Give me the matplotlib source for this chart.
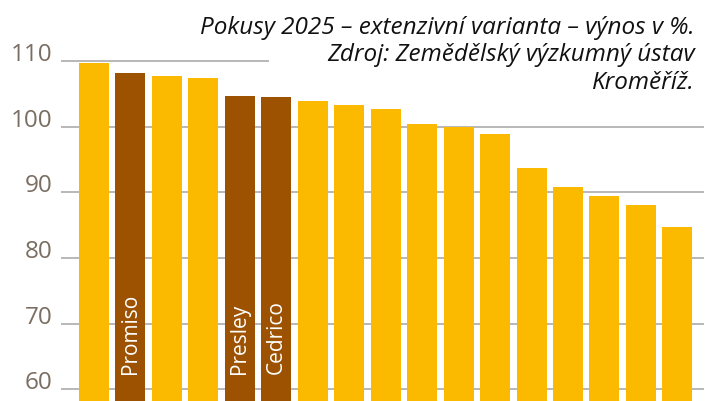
import matplotlib
matplotlib.use("Agg")
import matplotlib.pyplot as plt
from matplotlib.patches import Rectangle

values = [109.7, 108.2, 107.7, 107.4, 104.7, 104.5, 103.9, 103.3, 102.7,
          100.4, 100.0, 98.9, 93.7, 90.8, 89.5, 88.1, 84.7]
labels = ["", "Promiso", "", "", "Presley", "Cedrico", "", "", "",
          "", "", "", "", "", "", "", ""]
highlight = [False, True, False, False, True, True, False, False, False,
             False, False, False, False, False, False, False, False]
yticks = [60, 70, 80, 90, 100, 110]
title = "Pokusy 2025 – extenzivní varianta – výnos v %.\nZdroj: Zemědělský výzkumný ústav\nKroměříž."

YELLOW = "#FBB900"
BROWN = "#9C5200"
GRID = "#ABABAB"
TICKC = "#7A6E62"

plt.rcParams['font.family'] = ['Open Sans', 'DejaVu Sans']

fig = plt.figure(figsize=(7.07, 4.01), dpi=100)
ax = fig.add_axes([60.7 / 707, 0, (704 - 60.7) / 707, 1])

x = list(range(len(values)))
colors = [BROWN if h else YELLOW for h in highlight]
ax.bar(x, values, width=0.823, color=colors, zorder=3)

ax.set_ylim(58.2, 119.3)
ax.set_xlim(-0.913, len(values) - 1 + 0.73)
ax.set_yticks(yticks)
ax.set_yticklabels([str(t) for t in yticks], va='baseline')
ax.set_xticks([])
ax.tick_params(axis='y', length=0, pad=6, labelsize=17.5, labelcolor=TICKC)
for s in ax.spines.values():
    s.set_visible(False)
ax.yaxis.grid(True, color=GRID, linewidth=1.2, zorder=0)
ax.set_axisbelow(True)

for xi, lab in zip(x, labels):
    if lab:
        ax.text(xi, 62.3, lab, rotation=90, ha='center', va='bottom',
                color='white', fontsize=15, zorder=4)

# white backing behind the title (covers the top gridline on the right)
ax.add_patch(Rectangle((269 / 707, 0.80), 1, 0.25, transform=fig.transFigure,
                       facecolor='white', edgecolor='none', zorder=1))

fig.text(695 / 707, 1 - 89 / 401, title, ha='right', va='baseline',
         fontsize=17.5, style='italic', color='#111111', linespacing=1.2,
         multialignment='right')

fig.savefig("out.png", dpi=100)
